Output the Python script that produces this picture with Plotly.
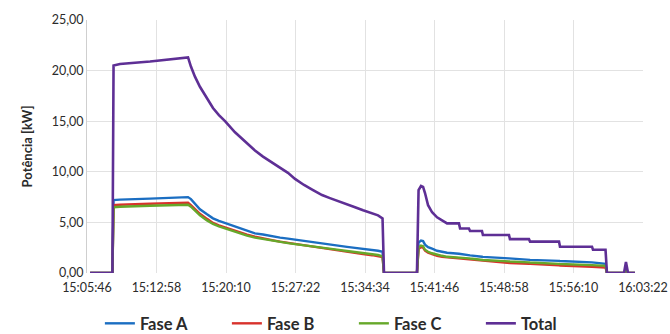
import plotly.graph_objects as go

DAY = "2023-05-10 "

# Sample timestamps (hh:mm:ss)
times = [
    "15:06:05", "15:08:24",
    "15:08:31", "15:09:11", "15:12:18", "15:14:22", "15:16:14", "15:16:32",
    "15:16:57", "15:17:28", "15:18:12", "15:18:49", "15:19:26", "15:20:04",
    "15:21:06", "15:22:21", "15:23:10", "15:24:00", "15:24:56", "15:25:46",
    "15:26:35", "15:27:19", "15:28:15", "15:29:11", "15:30:07", "15:30:56",
    "15:31:52", "15:32:42", "15:33:32", "15:34:22", "15:35:18", "15:35:55",
    "15:36:23",
    "15:36:32", "15:39:57",
    "15:40:07", "15:40:22", "15:40:35", "15:40:47", "15:41:06", "15:41:31",
    "15:42:02", "15:42:33", "15:43:04", "15:44:18", "15:44:25", "15:45:20",
    "15:45:27", "15:46:41", "15:46:47", "15:49:29", "15:49:35", "15:51:33",
    "15:51:40", "15:54:40", "15:54:46", "15:58:05", "15:58:11", "15:59:29",
    "15:59:38", "16:01:24", "16:01:36", "16:01:49", "16:02:32",
]

fase_a = [
    0, 0,
    7.2, 7.25, 7.35, 7.42, 7.5, 7.3,
    6.9, 6.3, 5.8, 5.4, 5.15, 4.95,
    4.55, 4.15, 3.92, 3.8, 3.62, 3.5,
    3.4, 3.3, 3.12, 3.0, 2.9, 2.78,
    2.68, 2.58, 2.48, 2.4, 2.3, 2.2,
    2.1,
    0, 0,
    3.0, 3.2, 3.15, 2.8, 2.55, 2.4,
    2.2, 2.1, 2.0, 1.9, 1.88, 1.75,
    1.74, 1.6, 1.59, 1.45, 1.44, 1.3,
    1.3, 1.2, 1.19, 1.05, 1.04, 0.9,
    0, 0, 0.35, 0, 0,
]

fase_b = [
    0, 0,
    6.7, 6.75, 6.85, 6.9, 6.95, 6.7,
    6.35, 5.85, 5.35, 4.95, 4.7, 4.5,
    4.15, 3.8, 3.6, 3.4, 3.25, 3.1,
    2.98, 2.88, 2.72, 2.57, 2.45, 2.33,
    2.18, 2.07, 1.96, 1.86, 1.76, 1.68,
    1.58,
    0, 0,
    2.4, 2.55, 2.5, 2.2, 2.0, 1.85,
    1.7, 1.6, 1.55, 1.45, 1.43, 1.35,
    1.33, 1.2, 1.19, 1.0, 0.99, 0.9,
    0.9, 0.75, 0.74, 0.62, 0.61, 0.55,
    0, 0, 0.35, 0, 0,
]

fase_c = [
    0, 0,
    6.5, 6.55, 6.65, 6.7, 6.75, 6.55,
    6.2, 5.7, 5.2, 4.85, 4.6, 4.4,
    4.05, 3.7, 3.5, 3.35, 3.2, 3.05,
    2.95, 2.85, 2.72, 2.6, 2.5, 2.4,
    2.28, 2.18, 2.08, 1.98, 1.88, 1.78,
    1.65,
    0, 0,
    2.5, 2.7, 2.65, 2.3, 2.1, 1.95,
    1.8, 1.7, 1.6, 1.55, 1.53, 1.45,
    1.43, 1.3, 1.29, 1.15, 1.14, 1.05,
    1.04, 0.9, 0.89, 0.78, 0.77, 0.7,
    0, 0, 0.35, 0, 0,
]

total = [
    0, 0,
    20.5, 20.65, 20.9, 21.1, 21.3, 20.4,
    19.4, 18.4, 17.3, 16.3, 15.6, 15.0,
    13.9, 12.8, 12.1, 11.5, 10.9, 10.4,
    9.9, 9.3, 8.7, 8.2, 7.7, 7.4,
    7.1, 6.8, 6.5, 6.2, 5.9, 5.7,
    5.4,
    0, 0,
    8.2, 8.6, 8.5, 7.9, 6.7, 6.0,
    5.5, 5.2, 4.9, 4.9, 4.4, 4.4,
    4.15, 4.15, 3.75, 3.75, 3.35, 3.35,
    3.1, 3.1, 2.6, 2.6, 2.3, 2.3,
    0, 0, 1.1, 0, 0,
]

tick_labels = [
    "15:05:46", "15:12:58", "15:20:10", "15:27:22", "15:34:34",
    "15:41:46", "15:48:58", "15:56:10", "16:03:22",
]

series = [
    ("Fase A", fase_a, "#1b6ec2", 2.4),
    ("Fase B", fase_b, "#d8322c", 2.4),
    ("Fase C", fase_c, "#66a82a", 2.4),
    ("Total", total, "#5e2f95", 2.6),
]

x = [DAY + t for t in times]
tick_vals = [DAY + t for t in tick_labels]

fig = go.Figure()
for name, vals, color, width in series:
    fig.add_trace(go.Scatter(
        x=x, y=vals, name=name, mode="lines",
        line=dict(color=color, width=width),
    ))

fig.update_layout(
    width=670, height=334,
    margin=dict(l=87, r=27, t=20, b=61, autoexpand=False),
    paper_bgcolor="white", plot_bgcolor="white",
    separators=",.",
    font=dict(family="Lato, 'Open Sans', sans-serif", size=12, color="#2b2b2b"),
    showlegend=True,
    legend=dict(
        orientation="h", x=0.48, xanchor="center", y=-0.2, yanchor="middle",
        font=dict(size=16.5, weight="bold", color="#2b2b2b"),
        entrywidth=82, entrywidthmode="pixels", itemwidth=30,
        traceorder="normal",
    ),
)

fig.update_xaxes(
    type="date",
    range=[tick_vals[0], tick_vals[-1]],
    tickvals=tick_vals, ticktext=tick_labels,
    showgrid=True, gridcolor="#e2e2e2", gridwidth=1,
    showline=False, zeroline=False, ticks="",
    ticklabelstandoff=5,
    tickfont=dict(size=12.5),
)
fig.update_yaxes(
    range=[0, 25], dtick=5, tickformat=".2f",
    showgrid=True, gridcolor="#e2e2e2", gridwidth=1,
    showline=True, linecolor="#cfcfcf", linewidth=1,
    zeroline=False, ticks="",
    tickfont=dict(size=12.5),
    title=dict(text="Potência [kW]", font=dict(size=13, weight="bold"), standoff=16),
)

fig.write_html("out.html")
